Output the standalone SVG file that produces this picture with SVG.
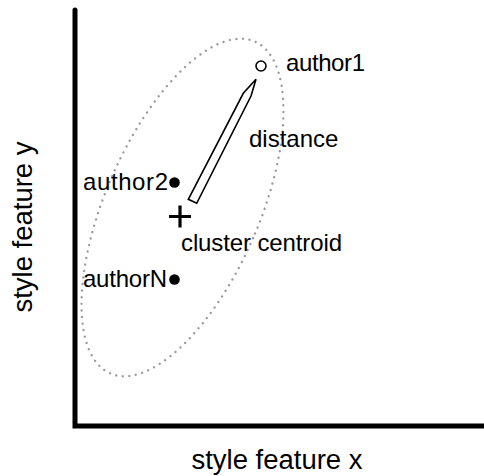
<svg xmlns="http://www.w3.org/2000/svg" width="484" height="476" viewBox="0 0 484 476">
<style>
text{font-family:"Liberation Sans",Arial,sans-serif;font-size:24px;fill:#000}
.axislabel{font-size:27px}
.axis{stroke:#000;stroke-width:5;fill:none}
.dot{fill:#000}
</style>
<rect width="484" height="476" fill="#fff"/>
<g id="axes">
<path class="axis" d="M75,10 V426 H484" stroke-linecap="round" stroke-linejoin="miter"/>
<text class="axislabel" id="xlabel" x="277" y="469" text-anchor="middle" textLength="171" lengthAdjust="spacingAndGlyphs">style feature x</text>
<text class="axislabel" id="ylabel" transform="translate(32,227) rotate(-90)" x="0" y="0" text-anchor="middle" textLength="171" lengthAdjust="spacingAndGlyphs">style feature y</text>
</g>
<g id="cluster">
<ellipse cx="182.5" cy="207.5" rx="77" ry="181" transform="rotate(23.5 182.5 207.5)" fill="none" stroke="#999" stroke-width="2.4" stroke-linecap="round" stroke-dasharray="0 6.6"/>
</g>
<g id="connectors">
<path id="distance-arrow" d="M256,79.3 L251,96 L196.7,203.3 L188.3,199.3 L243.3,93.3 Z" fill="#fff" stroke="#000" stroke-width="1.6" stroke-linejoin="miter"/>
</g>
<g id="author1">
<circle cx="261" cy="66" r="5" fill="#fff" stroke="#000" stroke-width="1.6"/>
<text x="286" y="71" textLength="79">author1</text>
</g>
<g id="author2">
<circle class="dot" cx="174.5" cy="182.5" r="5.3"/>
<text x="168" y="190" text-anchor="end" textLength="85">author2</text>
</g>
<g id="authorN">
<circle class="dot" cx="174.5" cy="279.5" r="5.3"/>
<text x="167" y="287" text-anchor="end" textLength="84">authorN</text>
</g>
<g id="centroid">
<path d="M169,216.5 H191 M180,205.5 V227.5" stroke="#000" stroke-width="3.2" fill="none"/>
<text x="181" y="251" textLength="161">cluster centroid</text>
</g>
<g id="distance-label">
<text x="249" y="147">distance</text>
</g>
</svg>
